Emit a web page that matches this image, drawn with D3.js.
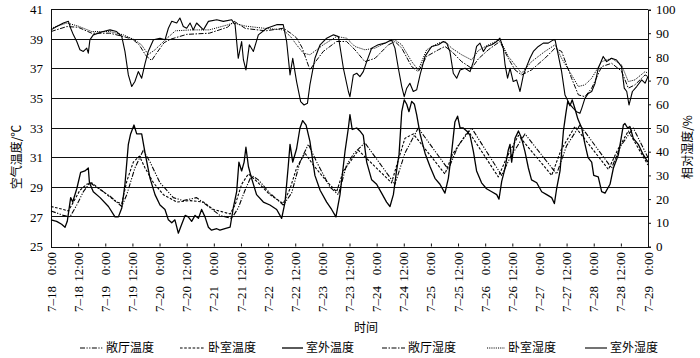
<!DOCTYPE html>
<html><head><meta charset="utf-8">
<script src="https://cdn.jsdelivr.net/npm/d3@7/dist/d3.min.js"></script>
<style>
body{margin:0;background:#fff;}
svg text{font-family:"Liberation Serif","Times New Roman","Noto Sans CJK SC",serif;fill:#000;}
.cjk{font-family:"Noto Sans CJK SC","Liberation Serif",serif;}
</style></head><body>
<svg id="chart" width="700" height="358"></svg>
<script>
// ---------- data ----------
const tempTicks = [25, 27, 29, 31, 33, 35, 37, 39, 41];
const rhTicks = [0, 10, 20, 30, 40, 50, 60, 70, 80, 90, 100];
const timeTicks = [0, 12, 24, 36, 48, 60, 72, 84, 96, 108, 120, 132, 144, 156, 168, 180, 192, 204, 216, 228, 240, 252, 264];
const dateLabels = ["7–18","7–18","7–19","7–19","7–20","7–20","7–21","7–21","7–22","7–22","7–23","7–23","7–24","7–24","7–25","7–25","7–26","7–26","7–27","7–27","7–28","7–28","7–29"];
const timeLabels = ["0:00","12:00","0:00","12:00","0:00","12:00","0:00","12:00","0:00","12:00","0:00","12:00","0:00","12:00","0:00","12:00","0:00","12:00","0:00","12:00","0:00","12:00","0:00"];
const seriesNames = ["敞厅温度","卧室温度","室外温度","敞厅湿度","卧室湿度","室外湿度"];
const xTitle = "时间";
const yLeftTitle = "空气温度/℃";
const yRightTitle = "相对湿度/%";

// [hours since 7-18 0:00, value]
const hallTemp = [[0,27.4],[5.5,27.1],[8.4,27.0],[11.4,27.8],[14.3,28.7],[17.2,29.3],[20.2,29.0],[26.1,28.4],[31.3,27.7],[33.5,28.5],[37.1,30.3],[40.8,31.5],[43.8,30.7],[48.2,29.3],[54.1,28.3],[58.5,28.1],[64.4,28.3],[68.8,27.8],[74.7,27.1],[79.9,26.9],[82.8,27.6],[85.8,28.8],[88.7,29.8],[91.7,29.5],[96.8,28.6],[102.7,27.8],[106.4,28.6],[110.1,30.7],[113.8,31.9],[117.5,30.7],[123.4,29.0],[127.1,28.5],[130.7,30.5],[134,31.3],[138.8,32.0],[152.1,29.2],[156.5,31.3],[162.4,33.0],[175.7,30.2],[180,31.8],[186.0,33.0],[199.3,29.8],[203,31.0],[209.6,32.6],[223.6,29.9],[228,31.8],[233.9,33.2],[247.9,30.3],[252,31.8],[257.5,33.0],[264,31.0]];
const bedTemp = [[0,27.7],[5.5,27.5],[7.7,27.4],[9.9,28.0],[12.8,28.8],[15.8,29.2],[18,29.3],[23.1,28.7],[29,28.0],[31.3,27.9],[33.5,29.4],[36.4,30.7],[39.1,31.1],[41.6,30.3],[45.3,29.3],[49.7,28.5],[55.6,28.0],[61.5,28.1],[67.4,28.0],[71.8,27.5],[79.2,27.2],[81.4,27.8],[84.3,29.2],[87.3,29.9],[91,29.4],[96.8,28.5],[102.7,27.9],[105.7,28.9],[108.6,30.3],[112.3,31.3],[116,30.5],[121.9,29.4],[126.3,28.7],[129.3,30.1],[132.2,30.7],[135.9,31.5],[150.6,29.3],[153.5,30.8],[156.5,32.3],[160.2,32.6],[174.2,29.9],[177.5,31.2],[184.5,32.8],[197.8,29.7],[201.5,31.0],[206.7,32.5],[221.4,29.8],[225.5,31.5],[231.7,33.1],[246.5,30.2],[250.5,31.5],[255.3,32.8],[264,30.5]];
const outTemp = [[0,26.8],[2.5,26.7],[4.7,26.5],[6.2,26.3],[7.2,26.7],[8.7,28.3],[9.6,28.0],[11.4,28.9],[13.1,30.0],[15.0,30.1],[16.5,30.3],[17.0,29.3],[18.7,28.7],[21.7,28.3],[25.4,27.7],[28.3,27.0],[29.8,27.0],[31.3,27.6],[32.7,29.2],[34.2,31.9],[35.2,32.6],[36.7,33.2],[37.9,32.6],[40.1,32.6],[41.6,31.3],[43.8,29.6],[46.0,28.5],[48.2,27.8],[50.4,27.5],[51.9,26.8],[53.4,26.6],[54.8,26.8],[56.3,25.9],[57.8,26.5],[59.3,27.1],[60.7,27.0],[62.2,26.7],[63.7,27.1],[65.2,26.9],[66.6,27.5],[68.1,27.0],[69.6,26.3],[71.0,26.1],[73.3,26.2],[74.7,26.1],[76.9,26.2],[79.2,26.3],[80.6,27.6],[82.1,28.7],[83.1,30.7],[84.3,30.1],[85.4,30.7],[86.2,31.7],[87.3,30.4],[88.7,29.6],[90.9,28.5],[93.9,28.0],[96.8,27.8],[99.8,27.5],[102.0,26.9],[103.5,28.0],[104.9,30.4],[105.7,31.9],[106.9,30.7],[108.6,31.6],[110.1,33.0],[111.3,33.5],[112.8,33.2],[114.5,32.1],[116.7,29.8],[119.0,28.8],[121.9,28.0],[124.1,27.5],[126.0,27.0],[127.8,28.5],[130.0,31.4],[131.5,33.0],[132.2,33.9],[133.2,32.9],[135.2,33.0],[136.6,32.8],[138.1,32.5],[139.6,30.7],[141.8,29.5],[144.0,29.2],[146.2,28.6],[148.4,28.0],[149.9,27.7],[151.4,28.5],[152.8,30.1],[153.9,31.2],[155.1,34.1],[156.2,34.9],[157.3,34.6],[158.3,34.1],[159.5,34.8],[160.7,34.6],[161.7,33.9],[163.2,32.6],[165.4,31.3],[167.6,30.4],[169.8,29.6],[172.0,29.2],[174.2,28.6],[175.7,29.6],[177.2,31.4],[178.6,33.4],[179.8,33.8],[180.9,33.0],[182.3,33.0],[183.8,32.8],[185.3,32.5],[186.8,31.4],[188.2,30.1],[190.4,29.3],[192.6,28.9],[194.9,28.7],[197.1,28.5],[198.1,28.2],[199.3,29.4],[200.8,30.3],[202.2,31.5],[203.0,31.9],[203.7,30.7],[205.2,32.3],[206.7,32.8],[208.1,32.3],[209.6,31.4],[211.1,30.3],[212.5,29.5],[214.8,29.3],[217.0,28.7],[219.2,28.5],[221.4,28.3],[222.6,27.9],[223.6,28.9],[225.1,30.1],[226.6,32.8],[227.6,33.9],[228.5,34.8],[229.5,34.5],[230.5,34.9],[231.7,34.3],[233.0,33.6],[234.7,33.0],[236.0,32.0],[237.5,31.0],[239.1,30.7],[240.0,29.8],[242.0,29.7],[243.5,28.7],[245.0,28.6],[247.2,29.2],[248.7,30.3],[250.9,31.2],[253.1,33.2],[253.8,33.3],[255.0,33.0],[256.0,33.1],[257.5,32.3],[259.7,31.9],[261.9,31.2],[264.0,30.7]];
const hallRH = [[0,90.7],[7,92.8],[12,92.5],[18,90.0],[26,90.0],[32,88.6],[36,87.5],[39,85.1],[42,80.5],[44.5,78.5],[47,82],[50,86],[53,87.5],[60,89.5],[70,90.0],[78,92.5],[81,95.0],[86,92],[95,91],[102.7,92.1],[106,90],[108.6,88.0],[111,84],[114.5,74.5],[117,78],[120.4,82.3],[126.3,86.5],[130.7,86.5],[134.4,83.0],[138.8,78.0],[143.3,79.4],[149.2,85.1],[152.1,86.5],[155.1,83.7],[159.5,75.9],[162.4,73.8],[166.1,80.2],[171.3,83.0],[174.2,84.4],[177.2,82.3],[181.6,78.0],[186.0,75.2],[189.0,79.2],[193.4,83.0],[198.5,86.5],[202.2,79.4],[205.2,74.5],[208.1,72.4],[212.5,74.5],[218.4,79.4],[222.9,83.7],[225.8,82.3],[230.2,71.0],[233.2,64.0],[236.1,63.2],[239.1,66.8],[243.5,75.9],[247.9,77.3],[252.3,74.0],[255.3,66.8],[258.2,68.2],[262.7,72.4],[264,71.7]];
const bedRH = [[0,92.1],[7,94.3],[12,93],[18,90.7],[26,90.7],[32,89.3],[37,87.2],[40,85.1],[43,81],[46,83],[50.5,87.2],[55,91],[62,91.4],[70,91.4],[78,93.5],[80.6,94.3],[86,93],[95,92],[102.7,91.4],[106,88.5],[108.6,85.1],[111.6,81.6],[114.5,80.9],[120.4,85.1],[126.3,88.6],[130.7,87.9],[134.4,84.4],[138.8,83.0],[143.3,83.7],[149.2,86.5],[152.1,87.2],[155.1,85.1],[159.5,78.0],[162.4,74.5],[166.1,83.0],[171.3,85.8],[174.2,86.5],[177.2,83.7],[181.6,80.9],[186.0,78.7],[189.0,82.7],[193.4,85.1],[198.5,87.2],[202.2,80.2],[205.2,76.6],[208.1,73.1],[212.5,78.0],[218.4,82.3],[222.9,85.1],[225.8,79.4],[230.2,72.4],[233.2,67.5],[236.1,68.2],[239.1,71.0],[243.5,78.0],[247.9,79.4],[252.3,76.6],[255.3,69.6],[258.2,70.3],[262.7,73.8],[264,73.1]];
const outRH = [[0,91.4],[2.5,92.8],[5.5,94.3],[7.7,95.0],[8.7,92.1],[9.9,89.3],[11.4,86.5],[12.8,83.0],[14.3,82.3],[15.8,83.7],[16.5,81.6],[17.2,87.2],[18.7,89.3],[23.1,90.7],[26.1,91.4],[29.0,90.7],[31.3,88.6],[32.7,82.3],[34.2,72.4],[35.7,67.5],[37.1,69.6],[38.6,73.8],[40.1,71.0],[41.6,77.3],[43.0,82.3],[45.3,87.2],[48.2,87.9],[50.4,87.2],[51.9,92.1],[53.4,95.0],[55.6,94.3],[57.0,96.4],[58.5,92.8],[60.0,92.1],[61.5,94.3],[62.9,91.4],[64.4,94.3],[67.4,91.4],[69.6,95.0],[73.3,95.7],[76.2,95.0],[79.9,95.7],[81.4,93.6],[82.8,79.4],[84.3,86.5],[85.1,78.7],[86.2,74.5],[87.7,85.1],[89.5,82.3],[91.7,89.3],[95.4,92.1],[99.8,93.6],[102.7,93.6],[104.2,86.5],[105.7,72.4],[106.9,79.4],[108.6,69.6],[110.4,61.1],[111.9,59.7],[113.4,60.4],[114.5,68.2],[116.7,79.4],[119.0,85.1],[121.9,87.9],[124.9,89.3],[127.1,88.6],[129.3,75.2],[131.5,65.4],[132.2,63.2],[133.7,72.4],[135.2,73.1],[136.6,71.7],[138.1,73.8],[139.6,78.0],[141.8,83.7],[144.7,85.1],[147.7,85.8],[150.6,87.2],[152.1,83.7],[153.6,75.2],[155.1,67.5],[156.2,63.2],[157.3,66.8],[158.7,68.9],[160.2,65.4],[161.7,66.1],[163.2,72.4],[165.4,80.2],[168.3,84.4],[171.3,85.1],[173.5,86.5],[175.0,85.8],[176.4,82.3],[177.9,73.1],[179.4,71.0],[180.9,74.5],[183.1,75.2],[185.3,73.8],[186.8,78.0],[188.2,84.4],[189.7,85.8],[191.2,82.3],[192.6,84.4],[194.9,85.1],[197.1,86.5],[198.5,87.9],[200.0,83.7],[200.8,76.6],[201.9,71.0],[203.0,75.2],[204.4,69.6],[205.9,70.3],[207.4,65.4],[208.9,72.4],[210.3,75.9],[211.8,79.4],[213.3,82.3],[215.5,84.4],[217.7,85.8],[219.9,85.8],[222.1,87.2],[222.9,87.2],[224.3,80.9],[225.8,73.8],[227.3,63.9],[229.1,60.4],[231.0,58.3],[232.4,56.9],[233.9,56.2],[234.7,58.3],[236.1,62.5],[237.6,64.6],[239.1,65.4],[240.6,68.9],[242.0,75.2],[244.2,80.2],[245.7,78.0],[247.9,79.4],[250.1,78.7],[252.3,75.9],[253.5,66.8],[254.6,65.4],[255.6,59.7],[257.1,65.4],[259.0,67.5],[261.2,70.3],[262.7,68.9],[264.0,71.7]];

// ---------- layout ----------
const svg = d3.select("#chart");
const L = 51, R = 648, T = 9.5, B = 246.5;
const x = d3.scaleLinear().domain([0, 264]).range([L, R]);
const yT = d3.scaleLinear().domain([25, 41]).range([B, T]);
const yH = d3.scaleLinear().domain([0, 100]).range([B, T]);

svg.append("g").selectAll("line").data(tempTicks.slice(1)).join("line")
  .attr("x1", L).attr("x2", R).attr("y1", d => yT(d)).attr("y2", d => yT(d))
  .attr("stroke", "#111").attr("stroke-width", 1).attr("shape-rendering", "crispEdges");

const gL = svg.append("g").attr("transform", `translate(${L},0)`)
  .call(d3.axisLeft(yT).tickValues(tempTicks).tickSize(0).tickPadding(8));
gL.select(".domain").attr("stroke", "#111").attr("shape-rendering", "crispEdges");
gL.selectAll("text").attr("font-size", 13);

const gR = svg.append("g").attr("transform", `translate(${R},0)`)
  .call(d3.axisRight(yH).tickValues(rhTicks).tickSize(3).tickPadding(5));
gR.select(".domain").attr("stroke", "#111").attr("shape-rendering", "crispEdges");
gR.selectAll("line").attr("stroke", "#111");
gR.selectAll("text").attr("font-size", 13);

const gB = svg.append("g").attr("transform", `translate(0,${B})`)
  .call(d3.axisBottom(x).tickValues(timeTicks).tickSize(-3).tickFormat(""));
gB.select(".domain").attr("stroke", "#111").attr("shape-rendering", "crispEdges");
gB.selectAll("line").attr("stroke", "#111");

const xl = svg.append("g").attr("font-size", 13);
timeTicks.forEach((t, i) => {
  xl.append("text").attr("transform", `translate(${x(t)},252) rotate(-90)`)
    .attr("text-anchor", "end").attr("dy", "0.35em").text(timeLabels[i]);
  xl.append("text").attr("transform", `translate(${x(t)},312) rotate(-90)`)
    .attr("text-anchor", "start").attr("dy", "0.35em").text(dateLabels[i]);
});

svg.append("text").attr("class", "cjk").attr("font-size", 12)
  .attr("transform", "translate(17,157) rotate(-90)").attr("text-anchor", "middle")
  .attr("dy", "0.35em").text(yLeftTitle);
svg.append("text").attr("class", "cjk").attr("font-size", 12)
  .attr("transform", "translate(688,147) rotate(-90)").attr("text-anchor", "middle")
  .attr("dy", "0.35em").text(yRightTitle);
svg.append("text").attr("class", "cjk").attr("font-size", 12)
  .attr("x", 366).attr("y", 328).attr("text-anchor", "middle").attr("dy", "0.35em").text(xTitle);

const styles = [
  {data: hallTemp, y: yT, dash: "5,1.5,1.2,1.5,1.2,1.5", w: 1.1},
  {data: bedTemp,  y: yT, dash: "2.6,1.6", w: 1.1},
  {data: outTemp,  y: yT, dash: null, w: 1.3},
  {data: hallRH,   y: yH, dash: "5,1.5,1.5,1.5", w: 1.0},
  {data: bedRH,    y: yH, dash: "1.1,1.1", w: 1.0},
  {data: outRH,    y: yH, dash: null, w: 1.1}
];
const plot = svg.append("g");
styles.forEach(s => {
  const line = d3.line().x(d => x(d[0])).y(d => s.y(d[1]));
  plot.append("path").datum(s.data).attr("d", line)
    .attr("fill", "none").attr("stroke", "#000").attr("stroke-width", s.w)
    .attr("stroke-linejoin", "round")
    .attr("stroke-dasharray", s.dash);
});

const legX = [80, 180, 282, 382, 487, 585];
const legW = [23, 25, 21, 23, 18, 22];
const lg = svg.append("g");
seriesNames.forEach((n, i) => {
  lg.append("line").attr("x1", legX[i]).attr("x2", legX[i] + legW[i])
    .attr("y1", 348).attr("y2", 348).attr("stroke", "#000")
    .attr("stroke-width", styles[i].w).attr("stroke-dasharray", styles[i].dash);
  lg.append("text").attr("class", "cjk").attr("font-size", 12)
    .attr("x", legX[i] + legW[i] + 3).attr("y", 348).attr("dy", "0.35em").text(n);
});
</script>
</body></html>
